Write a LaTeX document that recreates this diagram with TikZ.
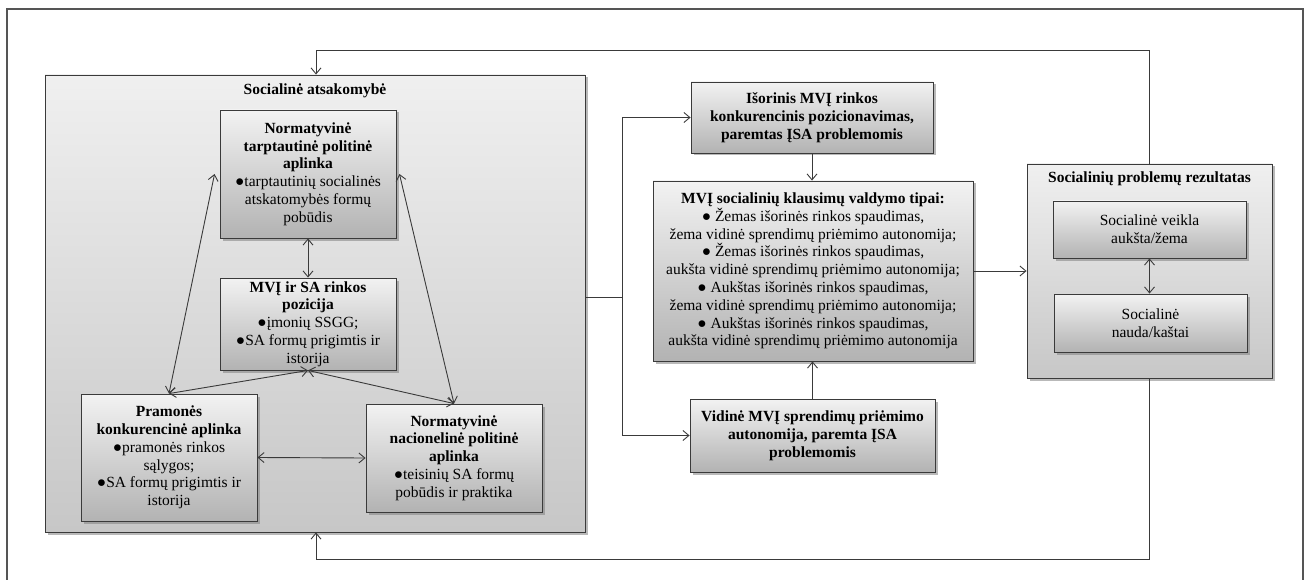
\documentclass[tikz,border=0pt]{standalone}
\usepackage{fontspec}
\setmainfont{Liberation Serif}
\usetikzlibrary{arrows.meta,shadows,calc}

\definecolor{linegray}{HTML}{3A3A3A}
\definecolor{framegray}{HTML}{555555}

\tikzset{
  boxshadow/.style={drop shadow={shadow xshift=2.5pt, shadow yshift=-2.5pt, fill=black!50, opacity=0.55}},
  panel/.style={draw=linegray, line width=0.9pt, top color=black!6, bottom color=black!22, boxshadow, inner sep=0pt},
  card/.style={draw=linegray, line width=0.9pt, top color=black!5, bottom color=black!30, boxshadow,
    align=center, inner sep=2pt, font=\fontsize{15.5}{17.8}\selectfont},
  heading/.style={align=center, inner sep=0pt, font=\fontsize{15.5}{17.8}\selectfont\bfseries},
  link/.style={draw=linegray, line width=0.9pt},
  tip/.style={-{Straight Barb[length=6pt,width=10pt]}},
  tips/.style={{Straight Barb[length=6pt,width=10pt]}-{Straight Barb[length=6pt,width=10pt]}},
}

\begin{document}
\begin{tikzpicture}[x=1pt, y=-1pt]
\useasboundingbox (0,0) rectangle (1311,580);

% outer frame
\draw[framegray, line width=2pt] (7,590) -- (7,9) -- (1303,9) -- (1303,590);

% left panel: social responsibility
\node[panel, minimum width=540pt, minimum height=457pt] (sa) at (315,303.5) {};
\node[heading] (satitle) at (315,91) {Socialinė atsakomybė};

\node[card, minimum width=176pt, minimum height=128pt] (ntp) at (308,174)
  {\textbf{Normatyvinė}\\ \textbf{tarptautinė politinė}\\ \textbf{aplinka}\\ ●tarptautinių socialinės\\ atskatomybės formų\\ pobūdis};
\node[card, minimum width=176pt, minimum height=92pt] (mvi) at (308,324)
  {\textbf{MVĮ ir SA rinkos}\\ \textbf{pozicija}\\ ●įmonių SSGG;\\ ●SA formų prigimtis ir\\ istorija};
\node[card, minimum width=176pt, minimum height=127pt] (pka) at (169,457.5)
  {\textbf{Pramonės}\\ \textbf{konkurencinė aplinka}\\ ●pramonės rinkos\\ sąlygos;\\ ●SA formų prigimtis ir\\ istorija};
\node[card, minimum width=176pt, minimum height=108pt] (nnp) at (454,458)
  {\textbf{Normatyvinė}\\ \textbf{nacionelinė politinė}\\ \textbf{aplinka}\\ ●teisinių SA formų\\ pobūdis ir praktika};

\draw[link, tips] (ntp.south) -- (mvi.north);
\draw[link, tips] ([xshift=-5pt]ntp.west) -- (pka.north);
\draw[link, tips] ([xshift=3pt]ntp.east) -- (nnp.north);
\draw[link, tips] (mvi.south) -- (pka.north);
\draw[link, tips] (mvi.south) -- (nnp.north);
\draw[link, tips] (pka.east) -- (nnp.west);

% middle column
\node[card, font=\fontsize{15.5}{17.8}\selectfont\bfseries, minimum width=242pt, minimum height=71pt] (isor) at (812,117.5)
  {Išorinis MVĮ rinkos\\ konkurencinis pozicionavimas,\\ paremtas ĮSA problemomis};
\node[card, minimum width=320pt, minimum height=180pt] (tipai) at (813,271)
  {\textbf{MVĮ socialinių klausimų valdymo tipai:}\\
   ● Žemas išorinės rinkos spaudimas,\\ žema vidinė sprendimų priėmimo autonomija;\\
   ● Žemas išorinės rinkos spaudimas,\\ aukšta vidinė sprendimų priėmimo autonomija;\\
   ● Aukštas išorinės rinkos spaudimas,\\ žema vidinė sprendimų priėmimo autonomija;\\
   ● Aukštas išorinės rinkos spaudimas,\\ aukšta vidinė sprendimų priėmimo autonomija};
\node[card, font=\fontsize{15.5}{17.8}\selectfont\bfseries, minimum width=245pt, minimum height=73pt] (vid) at (812.5,435.5)
  {Vidinė MVĮ sprendimų priėmimo\\ autonomija, paremta ĮSA\\ problemomis};

\coordinate (br) at (622,297);
\draw[link] (sa.east |- br) -- (br);
\draw[link, tip] (br) |- (isor.west);
\draw[link, tip] (br) |- (vid.west);
\draw[link, tip] (isor.south) -- (isor.south |- tipai.north);
\draw[link, tip] (vid.north) -- (vid.north |- tipai.south);

% right panel: outcome
\node[panel, minimum width=245pt, minimum height=214pt] (rez) at (1149.5,271) {};
\node[heading] (reztitle) at (1149.5,179) {Socialinių problemų rezultatas};
\node[card, minimum width=193pt, minimum height=57pt] (veikla) at (1149.5,229.5)
  {Socialinė veikla\\ aukšta/žema};
\node[card, minimum width=193pt, minimum height=58pt] (nauda) at (1150.5,323)
  {Socialinė\\ nauda/kaštai};
\draw[link, tips] (veikla.south) -- (veikla.south |- nauda.north);
\draw[link, tip] (tipai.east) -- (rez.west);

% feedback loops back to the left panel
\coordinate (looptop) at (316,50);
\coordinate (loopbot) at (316,559);
\draw[link, tip] (rez.north) |- (looptop) -- (looptop |- sa.north);
\draw[link, tip] (rez.south) |- (loopbot) -- (loopbot |- sa.south);
\end{tikzpicture}
\end{document}
